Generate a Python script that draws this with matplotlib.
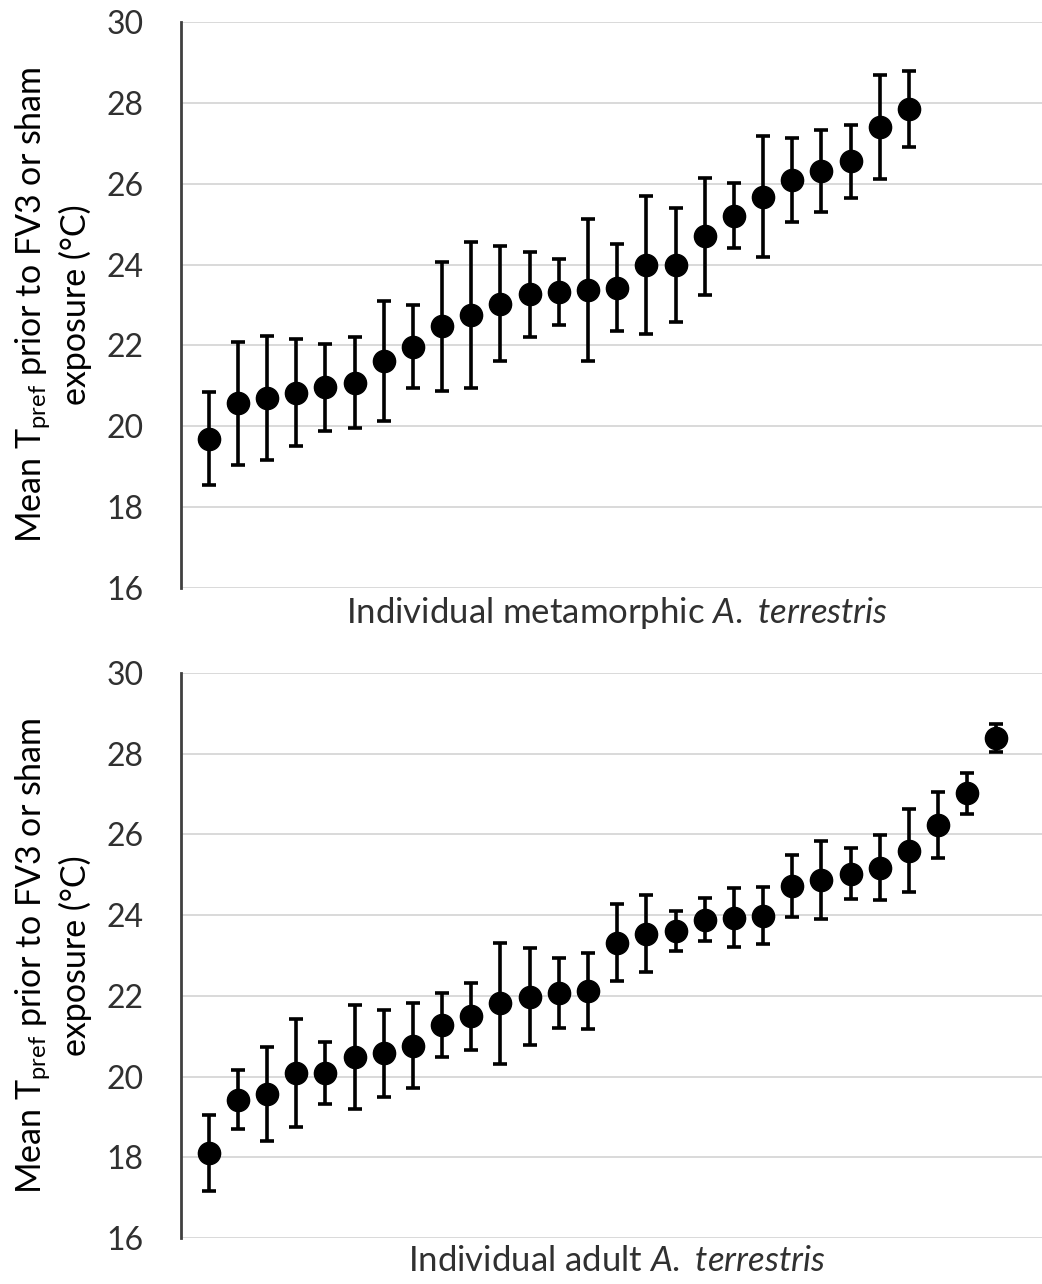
"""Mean preferred temperature per individual before FV3 / sham exposure."""

import numpy as np
import matplotlib.pyplot as plt

plt.switch_backend("Agg")
plt.rcParams["font.family"] = ["Lato", "DejaVu Sans"]
plt.rcParams["mathtext.fontset"] = "custom"
plt.rcParams["mathtext.rm"] = "Lato"
plt.rcParams["mathtext.it"] = "Lato:italic"

# metamorphic individuals (sorted by mean Tpref)
meta_mean = [19.69, 20.57, 20.69, 20.83, 20.96, 21.08, 21.61, 21.97, 22.47, 22.75,
             23.03, 23.26, 23.32, 23.37, 23.43, 23.99, 23.99, 24.70, 25.21, 25.68,
             26.09, 26.31, 26.55, 27.41, 27.85]
meta_err = [1.15, 1.52, 1.53, 1.33, 1.07, 1.12, 1.49, 1.03, 1.59, 1.80,
            1.42, 1.06, 0.81, 1.76, 1.07, 1.71, 1.42, 1.45, 0.80, 1.50,
            1.03, 1.02, 0.91, 1.29, 0.94]

# adult individuals
adult_mean = [18.11, 19.43, 19.57, 20.09, 20.09, 20.48, 20.58, 20.77, 21.28, 21.49,
              21.82, 21.98, 22.07, 22.12, 23.32, 23.54, 23.61, 23.89, 23.94, 23.99,
              24.72, 24.87, 25.03, 25.18, 25.60, 26.24, 27.02, 28.39]
adult_err = [0.94, 0.73, 1.17, 1.35, 0.76, 1.29, 1.08, 1.06, 0.79, 0.83,
             1.50, 1.20, 0.87, 0.94, 0.95, 0.95, 0.50, 0.53, 0.73, 0.70,
             0.76, 0.96, 0.63, 0.80, 1.03, 0.82, 0.50, 0.35]

y_ticks = [16, 18, 20, 22, 24, 26, 28, 30]
y_label = "Mean T$_{\\mathrm{pref}}$ prior to FV3 or sham\nexposure (°C)"
x_labels = ["Individual metamorphic $\\mathit{A.\\ terrestris}$",
            "Individual adult $\\mathit{A.\\ terrestris}$"]

fig = plt.figure(figsize=(10.42, 12.84), dpi=100)
ax_top = fig.add_axes([0.1737, 0.5421, 0.84, 0.4408])
ax_bot = fig.add_axes([0.1737, 0.0358, 0.84, 0.4400])

for ax, means, errs, xlab in [(ax_top, meta_mean, meta_err, x_labels[0]),
                               (ax_bot, adult_mean, adult_err, x_labels[1])]:
    x = np.arange(1, len(means) + 1)
    ax.errorbar(x, means, yerr=errs, fmt="o", color="black", ms=16,
                elinewidth=2.6, capsize=5, capthick=2.6, zorder=3)
    ax.set_xlim(0.05, 30.05)
    ax.set_ylim(16, 30)
    ax.set_yticks(y_ticks)
    ax.set_xticks([])
    ax.grid(axis="y", color="#d9d9d9", linewidth=1.4)
    ax.set_axisbelow(True)
    for side in ["top", "right", "bottom"]:
        ax.spines[side].set_visible(False)
    ax.spines["left"].set_color("#404040")
    ax.spines["left"].set_linewidth(2)
    ax.tick_params(axis="y", length=0, pad=27, labelsize=23, labelcolor="#303030")
    ax.set_ylabel(y_label, fontsize=24.5, linespacing=1.25, labelpad=10)
    ax.set_xlabel(xlab, fontsize=25, color="#303030")
    ax.xaxis.set_label_coords(0.498, -0.012, transform=ax.transAxes)
    ax.xaxis.label.set_verticalalignment("top")

fig.savefig("out.png", dpi=100)
